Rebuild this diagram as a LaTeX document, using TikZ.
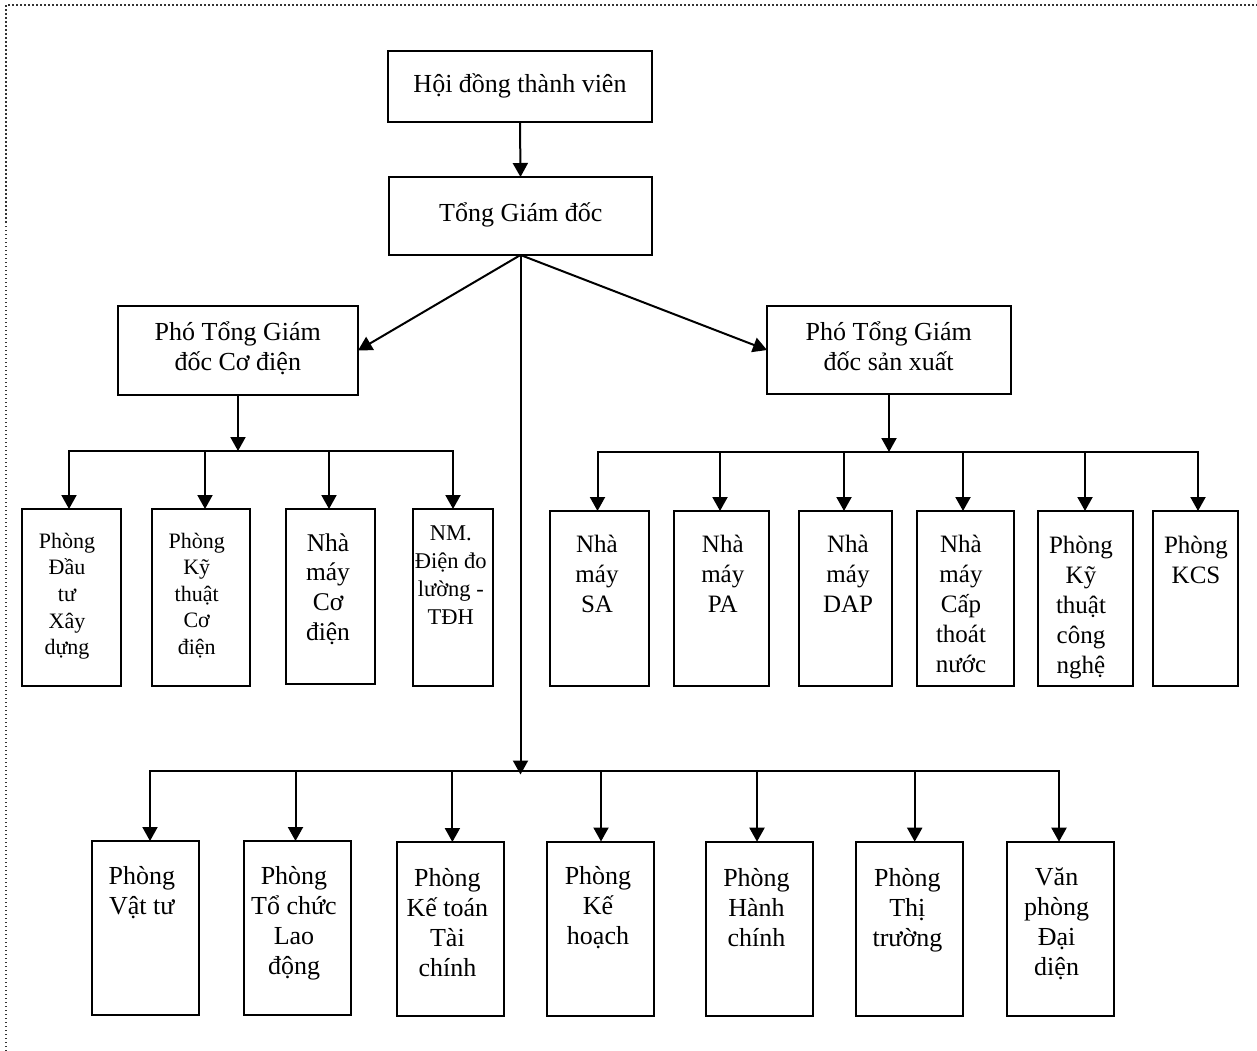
\documentclass[tikz,border=0pt]{standalone}
\usepackage{fontspec}
\setmainfont{Liberation Serif}
\usetikzlibrary{arrows.meta}
\begin{document}
\begin{tikzpicture}[x=1pt,y=-1pt,
  bx/.style={draw, line width=2pt, inner sep=0pt, outer sep=0pt},
  lab/.style={anchor=base, align=center, inner sep=0pt},
  fa/.style={font=\fontsize{26}{30}\selectfont},
  fb/.style={font=\fontsize{25}{30}\selectfont},
  fc/.style={font=\fontsize{22}{26.6}\selectfont},
  fd/.style={font=\fontsize{22.5}{28.3}\selectfont},
  fe/.style={font=\fontsize{25.5}{29.7}\selectfont},
  arr/.style={line width=2pt, -{Triangle[length=14pt,width=15pt]}},
  ln/.style={line width=2pt, line cap=rect},
  dotb/.style={line width=1.5pt, black!80, dash pattern=on 1.5pt off 2.5pt}
]
\useasboundingbox (0,0) rectangle (1257,1051);
\draw[dotb] (6,1051) -- (6,5) -- (1257,5);

% top level
\node[bx, minimum width=264pt, minimum height=71pt] (hdtv) at (520,86.5) {};
\node[lab, fa] (thdtv) at (520,93) {Hội đồng thành viên};
\node[bx, minimum width=263pt, minimum height=78pt] (tgd) at (520.5,216) {};
\node[lab, fa] (ttgd) at (520.8,221.7) {Tổng Giám đốc};
\node[bx, minimum width=240pt, minimum height=89pt] (pcd) at (238,350.5) {};
\node[lab, fa] (tpcd) at (237.8,370) {Phó Tổng Giám\\đốc Cơ điện};
\node[bx, minimum width=244pt, minimum height=88pt] (psx) at (889,350) {};
\node[lab, fa] (tpsx) at (888.7,370) {Phó Tổng Giám\\đốc sản xuất};

\draw[arr] (hdtv.south) -- (tgd.north);
\draw[arr] (tgd.south) -- (pcd.east);
\draw[arr] (tgd.south) -- (psx.west);

% left group
\node[bx, minimum width=99pt, minimum height=177pt] (L1) at (71.5,597.5) {};
\node[lab, fc] (tL1) at (67,654.7) {Phòng\\Đầu\\tư\\Xây\\dựng};
\node[bx, minimum width=98pt, minimum height=177pt] (L2) at (201,597.5) {};
\node[lab, fc] (tL2) at (196.7,654.4) {Phòng\\Kỹ\\thuật\\Cơ\\điện};
\node[bx, minimum width=89pt, minimum height=175pt] (L3) at (330.5,596.5) {};
\node[lab, fe] (tL3) at (328,640.1) {Nhà\\máy\\Cơ\\điện};
\node[bx, minimum width=80pt, minimum height=177pt] (L4) at (453,597.5) {};
\node[lab, fd] (tL4) at (450.8,624.9) {NM.\\Điện đo\\lường -\\TĐH};

\coordinate (lb1) at (69,451);
\coordinate (lb2) at (205,451);
\coordinate (lb3) at (329,451);
\coordinate (lb4) at (453,451);
\draw[arr] (pcd.south) -- (pcd.south |- lb1);
\draw[ln] (lb1) -- (lb4);
\draw[arr] (lb1) -- (lb1 |- L1.north);
\draw[arr] (lb2) -- (lb2 |- L2.north);
\draw[arr] (lb3) -- (lb3 |- L3.north);
\draw[arr] (lb4) -- (lb4 |- L4.north);

% right group
\node[bx, minimum width=99pt, minimum height=175pt] (R1) at (599.5,598.5) {};
\node[lab, fb] (tR1) at (597,612) {Nhà\\máy\\SA};
\node[bx, minimum width=94.5pt, minimum height=175pt] (R2) at (721.3,598.5) {};
\node[lab, fb] (tR2) at (722.8,612) {Nhà\\máy\\PA};
\node[bx, minimum width=93pt, minimum height=175pt] (R3) at (845.5,598.5) {};
\node[lab, fb] (tR3) at (848,612) {Nhà\\máy\\DAP};
\node[bx, minimum width=96.6pt, minimum height=175pt] (R4) at (965.3,598.5) {};
\node[lab, fb] (tR4) at (961,672) {Nhà\\máy\\Cấp\\thoát\\nước};
\node[bx, minimum width=95pt, minimum height=175pt] (R5) at (1085.5,598.5) {};
\node[lab, fb] (tR5) at (1081,673) {Phòng\\Kỹ\\thuật\\công\\nghệ};
\node[bx, minimum width=85pt, minimum height=175pt] (R6) at (1195.5,598.5) {};
\node[lab, fb] (tR6) at (1196,583) {Phòng\\KCS};

\coordinate (rb1) at (597.5,452);
\coordinate (rb2) at (720,452);
\coordinate (rb3) at (844,452);
\coordinate (rb4) at (963,452);
\coordinate (rb5) at (1085,452);
\coordinate (rb6) at (1198,452);
\draw[arr] (psx.south) -- (psx.south |- rb1);
\draw[ln] (rb1) -- (rb6);
\draw[arr] (rb1) -- (rb1 |- R1.north);
\draw[arr] (rb2) -- (rb2 |- R2.north);
\draw[arr] (rb3) -- (rb3 |- R3.north);
\draw[arr] (rb4) -- (rb4 |- R4.north);
\draw[arr] (rb5) -- (rb5 |- R5.north);
\draw[arr] (rb6) -- (rb6 |- R6.north);

% bottom group
\node[bx, minimum width=107pt, minimum height=174pt] (B1) at (145.5,928) {};
\node[lab, fa] (tB1) at (141.8,914) {Phòng\\Vật tư};
\node[bx, minimum width=107pt, minimum height=174pt] (B2) at (297.5,928) {};
\node[lab, fa] (tB2) at (294,974) {Phòng\\Tổ chức\\Lao\\động};
\node[bx, minimum width=107pt, minimum height=174pt] (B3) at (450.5,929) {};
\node[lab, fa] (tB3) at (447.4,976) {Phòng\\Kế toán\\Tài\\chính};
\node[bx, minimum width=107pt, minimum height=174pt] (B4) at (600.5,928.5) {};
\node[lab, fa] (tB4) at (598,944) {Phòng\\Kế\\hoạch};
\node[bx, minimum width=107pt, minimum height=174pt] (B5) at (759.5,928.7) {};
\node[lab, fa] (tB5) at (756.5,946) {Phòng\\Hành\\chính};
\node[bx, minimum width=107pt, minimum height=174pt] (B6) at (909.5,928.7) {};
\node[lab, fa] (tB6) at (907.4,946) {Phòng\\Thị\\trường};
\node[bx, minimum width=107pt, minimum height=174pt] (B7) at (1060.5,928.7) {};
\node[lab, fa] (tB7) at (1056.6,975) {Văn\\phòng\\Đại\\diện};

\coordinate (bb1) at (150,770.5);
\coordinate (bb2) at (295.5,770.5);
\coordinate (bb3) at (452.4,770.5);
\coordinate (bb4) at (601,770.5);
\coordinate (bb5) at (757,770.5);
\coordinate (bb6) at (914.7,770.5);
\coordinate (bb7) at (1059,770.5);
\draw[arr, shorten >=-4pt] (tgd.south) -- (tgd.south |- bb1);
\draw[ln] (bb1) -- (bb7);
\draw[arr] (bb1) -- (bb1 |- B1.north);
\draw[arr] (bb2) -- (bb2 |- B2.north);
\draw[arr] (bb3) -- (bb3 |- B3.north);
\draw[arr] (bb4) -- (bb4 |- B4.north);
\draw[arr] (bb5) -- (bb5 |- B5.north);
\draw[arr] (bb6) -- (bb6 |- B6.north);
\draw[arr] (bb7) -- (bb7 |- B7.north);
\end{tikzpicture}
\end{document}
